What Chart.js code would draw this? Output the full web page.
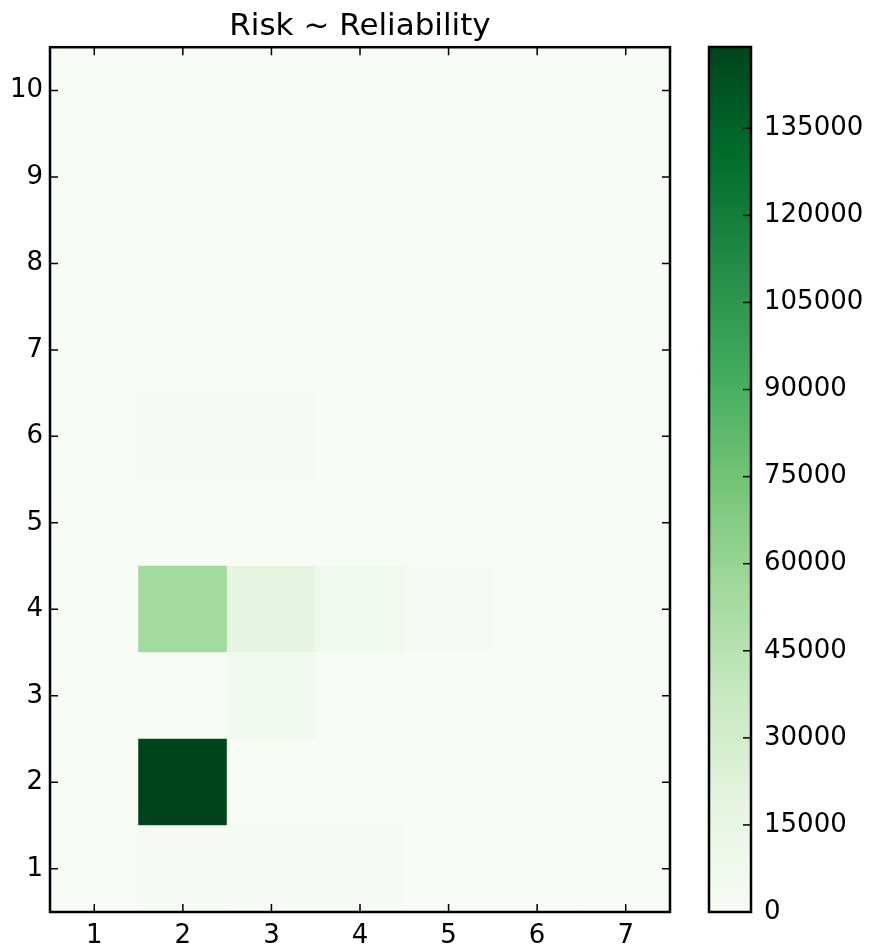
<!DOCTYPE html>
<html>
<head>
<meta charset="utf-8">
<script src="https://cdn.jsdelivr.net/npm/chart.js@4/dist/chart.umd.min.js"></script>
<style>
  body { margin: 0; background: #fff; }
  #wrap { position: relative; width: 871px; height: 947px; }
  #heat { position: absolute; left: 0; top: 0; }
  #bar { position: absolute; left: 700px; top: 0; }
</style>
</head>
<body>
<div id="wrap">
  <canvas id="heat" width="700" height="947"></canvas>
  <canvas id="bar" width="171" height="947"></canvas>
</div>
<script>
// axis categories
const reliability = [1, 2, 3, 4, 5, 6, 7];
const risk = [1, 2, 3, 4, 5, 6, 7, 8, 9, 10];

// counts per risk row (bottom row first), one value per reliability column
const row1  = [0,   2000,  3000, 3000,    0, 0, 0];
const row2  = [0, 149000,     0,    0,    0, 0, 0];
const row3  = [0,   1000,  6000,    0,    0, 0, 0];
const row4  = [0,  55000, 18000, 8000, 2500, 0, 0];
const row5  = [0,      0,     0,    0,    0, 0, 0];
const row6  = [0,   2500,  2500,    0,    0, 0, 0];
const row7  = [0,      0,     0,    0,    0, 0, 0];
const row8  = [0,      0,     0,    0,    0, 0, 0];
const row9  = [0,      0,     0,    0,    0, 0, 0];
const row10 = [0,      0,     0,    0,    0, 0, 0];
const rows = [row1, row2, row3, row4, row5, row6, row7, row8, row9, row10];

// colorbar ticks
const barTicks = [0, 15000, 30000, 45000, 60000, 75000, 90000, 105000, 120000, 135000];
const vmax = Math.max(...rows.flat());

// matplotlib "Greens"
const greens = ['#f7fcf5', '#e5f5e0', '#c7e9c0', '#a1d99b', '#74c476', '#41ab5d', '#238b45', '#006d2c', '#00441b'];

function hexRgb(h) {
  return [parseInt(h.slice(1, 3), 16), parseInt(h.slice(3, 5), 16), parseInt(h.slice(5, 7), 16)];
}
function colorFor(v) {
  let t = Math.max(0, Math.min(1, v / vmax)) * (greens.length - 1);
  let i = Math.min(Math.floor(t), greens.length - 2);
  let f = t - i;
  let a = hexRgb(greens[i]), b = hexRgb(greens[i + 1]);
  let c = a.map((x, k) => Math.round(x + (b[k] - x) * f));
  return 'rgb(' + c.join(',') + ')';
}

const font = { family: 'DejaVu Sans', size: 26 };
Chart.defaults.color = '#000';
Chart.defaults.font.family = 'DejaVu Sans';

// frame + inward ticks like matplotlib
const frame = {
  id: 'frame',
  afterDatasetsDraw(chart, args, opts) {
    const { ctx, chartArea: a, scales } = chart;
    ctx.save();
    ctx.strokeStyle = '#000';
    ctx.lineWidth = 1.5;
    const len = 8;
    if (opts.xTicks) {
      scales.x.ticks.forEach((t, i) => {
        const px = scales.x.getPixelForTick(i);
        ctx.beginPath();
        ctx.moveTo(px, a.bottom); ctx.lineTo(px, a.bottom - len);
        ctx.moveTo(px, a.top); ctx.lineTo(px, a.top + len);
        ctx.stroke();
      });
    }
    scales.y.ticks.forEach(t => {
      const py = scales.y.getPixelForValue(t.value);
      ctx.beginPath();
      if (opts.leftTicks) { ctx.moveTo(a.left, py); ctx.lineTo(a.left + len, py); }
      ctx.moveTo(a.right, py); ctx.lineTo(a.right - len, py);
      ctx.stroke();
    });
    ctx.lineWidth = 2.5;
    ctx.strokeRect(a.left, a.top, a.right - a.left, a.bottom - a.top);
    ctx.restore();
  }
};

new Chart(document.getElementById('heat'), {
  type: 'bar',
  data: {
    labels: reliability.map(String),
    datasets: rows.map((vals, r) => ({
      label: 'Risk ' + risk[r],
      data: vals.map(() => [risk[r] - 0.5, risk[r] + 0.5]),
      backgroundColor: vals.map(colorFor),
      borderWidth: 0,
      barPercentage: 1,
      categoryPercentage: 1,
      grouped: false
    }))
  },
  options: {
    responsive: false,
    animation: false,
    layout: { padding: { left: 0, right: 30, top: 0, bottom: 0 } },
    plugins: {
      legend: { display: false },
      tooltip: { enabled: false },
      title: {
        display: true,
        text: 'Risk ~ Reliability',
        fullSize: false,
        font: { family: 'DejaVu Sans', size: 31, weight: 'normal' },
        padding: { top: 8, bottom: 2 }
      },
      frame: { xTicks: true, leftTicks: true }
    },
    scales: {
      x: {
        grid: { display: false, drawTicks: false },
        border: { display: false },
        ticks: { font, padding: 9, maxRotation: 0 },
        afterFit(s) { s.height = 35; }
      },
      y: {
        type: 'linear',
        min: 0.5,
        max: 10.5,
        grid: { display: false, drawTicks: false },
        border: { display: false },
        ticks: { font, padding: 7, callback: v => String(v) },
        afterBuildTicks(s) { s.ticks = risk.map(v => ({ value: v })); },
        afterFit(s) { s.width = 50; }
      }
    }
  },
  plugins: [frame]
});

// colorbar
new Chart(document.getElementById('bar'), {
  type: 'bar',
  data: {
    labels: [''],
    datasets: [{
      data: [[0, vmax]],
      barPercentage: 1,
      categoryPercentage: 1,
      borderWidth: 0,
      backgroundColor(c) {
        const chart = c.chart;
        if (!chart.chartArea) return greens[0];
        const y = chart.scales.y;
        const g = chart.ctx.createLinearGradient(0, y.getPixelForValue(0), 0, y.getPixelForValue(vmax));
        greens.forEach((col, i) => g.addColorStop(i / (greens.length - 1), col));
        return g;
      }
    }]
  },
  options: {
    responsive: false,
    animation: false,
    layout: { padding: { left: 9, right: 0, top: 47, bottom: 35 } },
    plugins: {
      legend: { display: false },
      tooltip: { enabled: false },
      frame: { xTicks: false, leftTicks: false }
    },
    scales: {
      x: { display: false },
      y: {
        position: 'right',
        min: 0,
        max: vmax,
        grid: { display: false, drawTicks: false },
        border: { display: false },
        ticks: { font, padding: 13, callback: v => String(v) },
        afterBuildTicks(s) { s.ticks = barTicks.map(v => ({ value: v })); },
        afterFit(s) { s.width = 120; }
      }
    }
  },
  plugins: [frame]
});
</script>
</body>
</html>
